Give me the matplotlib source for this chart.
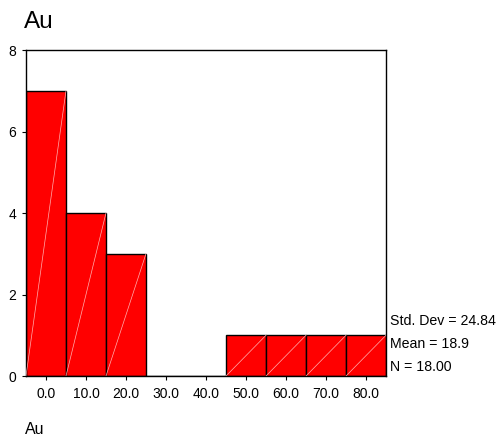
import matplotlib.pyplot as plt

plt.rcParams['font.family'] = ['Liberation Sans', 'DejaVu Sans']

# histogram of Au (bin centres and counts)
bin_centers = [0, 10, 20, 30, 40, 50, 60, 70, 80]
counts = [7, 4, 3, 0, 0, 1, 1, 1, 1]
tick_labels = ['0.0', '10.0', '20.0', '30.0', '40.0', '50.0', '60.0', '70.0', '80.0']
stats_lines = ['Std. Dev = 24.84', 'Mean = 18.9', 'N = 18.00']
bin_width = 10

fig = plt.figure(figsize=(5.01, 4.36), dpi=100)
ax = fig.add_axes([26 / 501, 1 - 376 / 436, 360 / 501, 326 / 436])

bars = ax.bar(bin_centers, counts, width=bin_width, color='#ff0000',
              edgecolor='black', linewidth=1.0, zorder=2)

# faint diagonal line inside every bar
for b in bars:
    if b.get_height() > 0:
        x0 = b.get_x()
        ax.plot([x0, x0 + b.get_width()], [0, b.get_height()],
                color='#ffb0b0', linewidth=0.5, zorder=3)

ax.set_xlim(-5, 85)
ax.set_ylim(0, 8)
ax.set_xticks(bin_centers)
ax.set_xticklabels(tick_labels)
ax.set_yticks([0, 2, 4, 6, 8])
ax.tick_params(direction='out', length=3, width=0.8, labelsize=10, pad=5)
ax.tick_params(axis='y', pad=4)
for s in ax.spines.values():
    s.set_linewidth(1.0)
    s.set_color('black')

fig.text(24 / 501, 1 - 28 / 436, 'Au', fontsize=17.5, ha='left', va='baseline')
fig.text(25 / 501, 1 - 434 / 436, 'Au', fontsize=11.5, ha='left', va='baseline')

for i, line in enumerate(stats_lines):
    fig.text(390 / 501, 1 - (321 + 23 * i) / 436, line, fontsize=10.2,
             ha='left', va='center')

fig.savefig('out.png', dpi=100)
